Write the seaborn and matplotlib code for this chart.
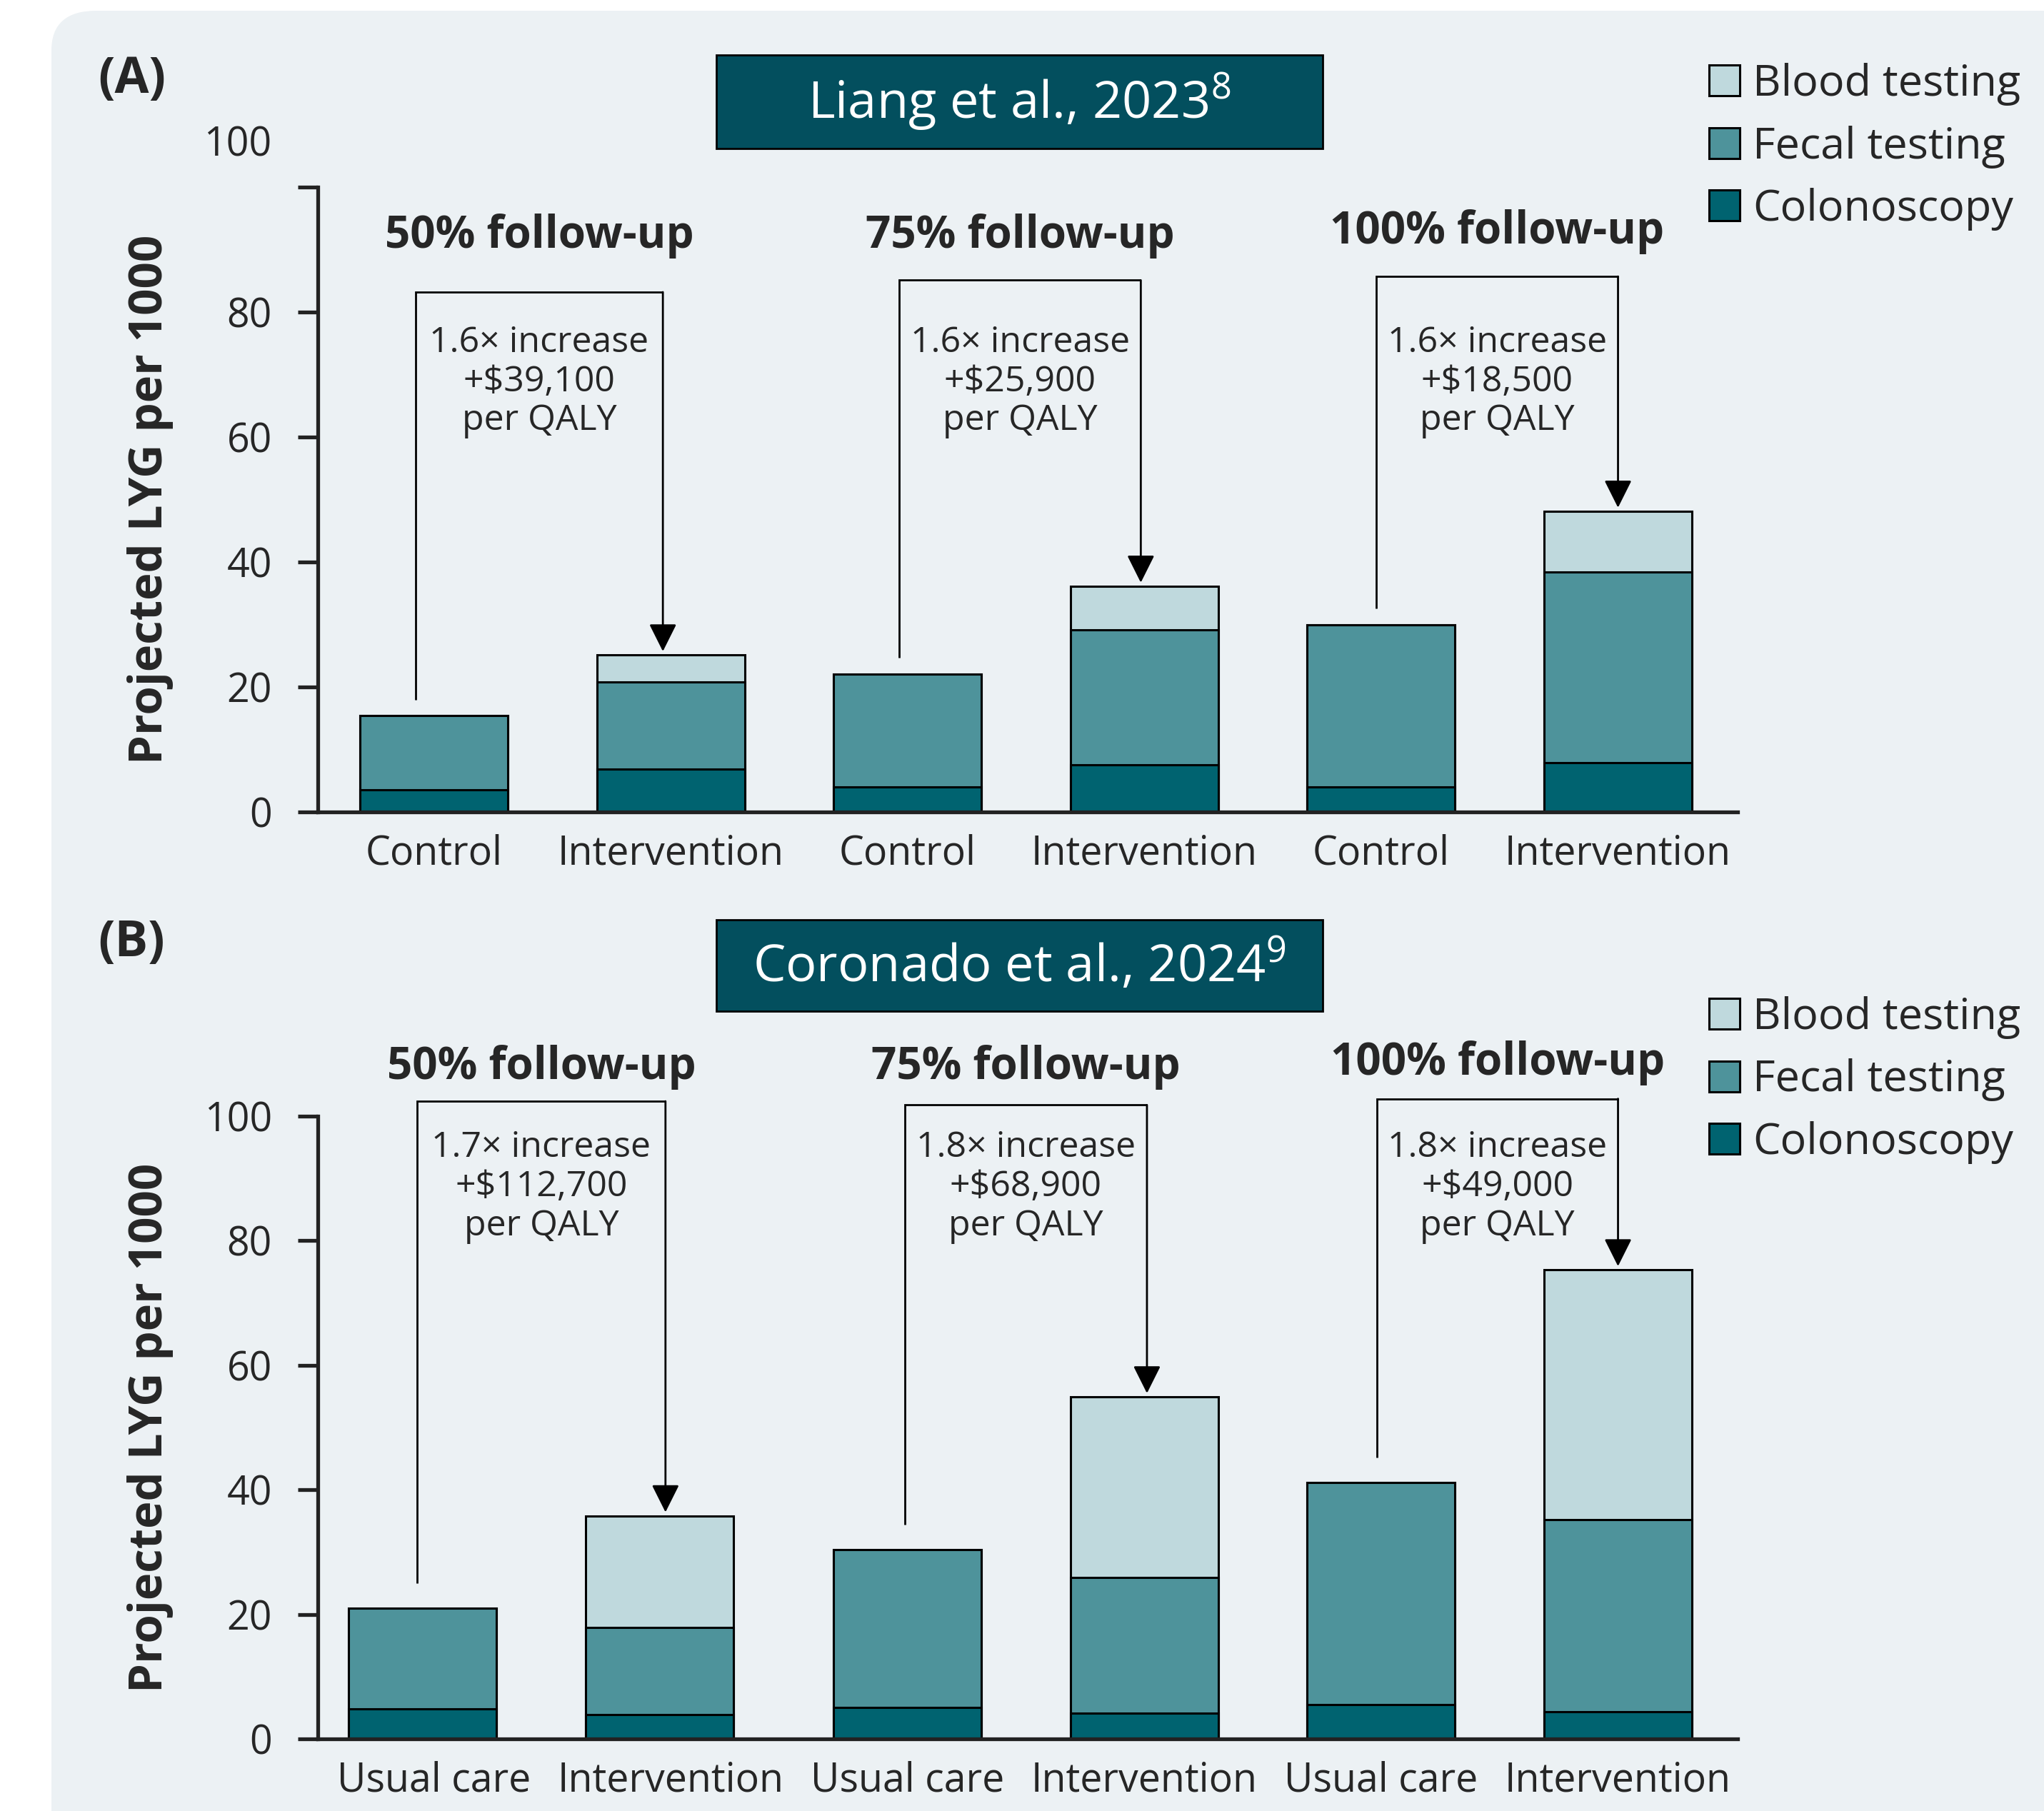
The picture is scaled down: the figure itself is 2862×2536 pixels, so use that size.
import numpy as np
import pandas as pd
import matplotlib
matplotlib.use("Agg")
import matplotlib.pyplot as plt
import seaborn as sns
from matplotlib.patches import Patch, Rectangle, FancyBboxPatch

sns.set_theme(style="ticks")
plt.rcParams["font.family"] = ["Open Sans", "DejaVu Sans"]
plt.rcParams["mathtext.fontset"] = "custom"
plt.rcParams["mathtext.rm"] = "Open Sans"

# ---------------- data ----------------
xlabels_a = ["Control", "Intervention", "Control", "Intervention", "Control", "Intervention"]
xlabels_b = ["Usual care", "Intervention", "Usual care", "Intervention", "Usual care", "Intervention"]
series_names = ["Blood testing", "Fecal testing", "Colonoscopy"]

colon_a = [3.6, 6.9, 4.0, 7.5, 4.0, 7.85]
fecal_a = [11.8, 13.9, 18.1, 21.7, 26.0, 30.55]
blood_a = [0.0, 4.3, 0.0, 6.9, 0.0, 9.7]

colon_b = [4.8, 3.9, 5.1, 4.1, 5.5, 4.4]
fecal_b = [16.2, 14.0, 25.3, 21.8, 35.7, 30.8]
blood_b = [0.0, 17.9, 0.0, 29.0, 0.0, 40.1]

followups = ["50% follow-up", "75% follow-up", "100% follow-up"]
notes_a = ["1.6× increase\n+$39,100\nper QALY",
           "1.6× increase\n+$25,900\nper QALY",
           "1.6× increase\n+$18,500\nper QALY"]
notes_b = ["1.7× increase\n+$112,700\nper QALY",
           "1.8× increase\n+$68,900\nper QALY",
           "1.8× increase\n+$49,000\nper QALY"]
title_a = r"Liang et al., 2023$^{\mathregular{8}}$"
title_b = r"Coronado et al., 2024$^{\mathregular{9}}$"
yticks = [0, 20, 40, 60, 80, 100]

# ---------------- style ----------------
BLOOD = "#BFD9DD"
FECAL = "#4E939B"
COLON = "#006370"
TITLEBOX = "#034F5E"
PANEL = "#ECF1F4"
SPINE = "#222222"
POS_A = [0, 1, 2, 3, 4, 5]
POS_B = [-0.048, 0.952, 2, 3, 4, 5]

W, H = 2862, 2536
fig = plt.figure(figsize=(W / 200, H / 200), dpi=200)
fig.patch.set_facecolor("white")
fig.patches.append(FancyBboxPatch((72 / W, -0.05), 1.2, 1.0 - 15 / H + 0.05,
                                  boxstyle="round,pad=0,rounding_size=0.022",
                                  transform=fig.transFigure, fc=PANEL, ec="none", zorder=-10))

ax_a = fig.add_axes([445 / W, 1 - 1137 / H, (2433 - 445) / W, (1137 - 262) / H])
ax_b = fig.add_axes([445 / W, 1 - 2435 / H, (2433 - 445) / W, (2435 - 1563) / H])


def draw_panel(ax, pos, colon, fecal, blood, xlabels, notes, br_dxl, br_dxr, br_tops,
               gap_left, header_y, note_y):
    colon = np.array(colon)
    fecal_top = colon + np.array(fecal)
    total = fecal_top + np.array(blood)
    df = pd.DataFrame({"pos": pos, "colon": colon, "fecal_top": fecal_top, "total": total})
    for col, c in [("total", BLOOD), ("fecal_top", FECAL), ("colon", COLON)]:
        sns.barplot(data=df, x="pos", y=col, native_scale=True, color=c, saturation=1,
                    width=0.624, edgecolor="black", linewidth=1.1, errorbar=None, ax=ax)
    ax.set_facecolor("none")
    ax.set_xlim(-0.49, 5.505)
    ax.set_ylim(0, 100)
    sns.despine(ax=ax)
    for s in ["left", "bottom"]:
        ax.spines[s].set_linewidth(1.9)
        ax.spines[s].set_color(SPINE)
    ax.set_yticks(yticks)
    ax.set_xticks(range(len(xlabels)))
    ax.set_xticklabels(xlabels)
    ax.tick_params(axis="y", length=10, width=1.9, pad=13, labelsize=20, color=SPINE)
    ax.tick_params(axis="x", length=0, pad=11, labelsize=20)
    ax.set_xlabel("")
    ax.set_ylabel("Projected LYG per 1000", fontsize=23.5, fontweight="bold")
    ax.yaxis.set_label_coords(-0.1015, 0.5)

    for g in range(3):
        xl = 2 * g + br_dxl[g]
        xr = 2 * g + 1 + br_dxr[g]
        top = br_tops[g]
        ax.plot([xl, xl, xr], [total[2 * g] + gap_left, top, top], color="black",
                lw=1.0, clip_on=False, solid_capstyle="butt", solid_joinstyle="miter")
        ax.annotate("", xy=(xr, total[2 * g + 1] + 0.6), xytext=(xr, top),
                    arrowprops=dict(arrowstyle="-|>,head_length=0.4,head_width=0.2",
                                    mutation_scale=30, lw=1.0, color="black",
                                    shrinkA=0, shrinkB=0), annotation_clip=False)
        xc = (xl + xr) / 2
        ax.text(xc, header_y[g], followups[g], ha="center", va="center",
                fontsize=22.3, fontweight="bold")
        ax.text(xc, note_y, notes[g], ha="center", va="center", fontsize=18,
                linespacing=1.14)
    return ax


draw_panel(ax_a, POS_A, colon_a, fecal_a, blood_a, xlabels_a, notes_a,
           [-0.078, -0.035, -0.02], [-0.033, -0.015, 0.0], [83.2, 85.1, 85.7],
           2.6, [92.2, 92.2, 92.8], 68.8)
draw_panel(ax_b, POS_B, colon_b, fecal_b, blood_b, xlabels_b, notes_b,
           [-0.071, -0.012, -0.019], [-0.022, 0.011, 0.0], [102.4, 101.8, 102.8],
           4.0, [107.8, 107.8, 108.5], 88.6)

# panel A: the "100" label sits higher than its tick in the original
ax_a.set_yticklabels([str(t) for t in yticks[:-1]] + [""])
ax_a.annotate(str(yticks[-1]), xy=(0, yticks[-1]), xycoords=("axes fraction", "data"),
              xytext=(-23.4, 20.9), textcoords="offset points", ha="right", va="center",
              fontsize=20)

# legends
for ax, ytop in [(ax_a, 1 - 88 / H), (ax_b, 1 - 1395 / H)]:
    handles = [Patch(facecolor=c, edgecolor="black", linewidth=1.1, label=n)
               for c, n in zip([BLOOD, FECAL, COLON], series_names)]
    ax.legend(handles=handles, loc="upper left", bbox_to_anchor=(2393 / W, ytop),
              bbox_transform=fig.transFigure, frameon=False, fontsize=22,
              handlelength=0.7, handleheight=0.7, handletextpad=0.3,
              labelspacing=0.45, borderpad=0, borderaxespad=0)

# panel labels and title boxes
fig.text(137 / W, 1 - 112 / H, "(A)", ha="left", va="center", fontsize=25, fontweight="bold")
fig.text(137 / W, 1 - 1321 / H, "(B)", ha="left", va="center", fontsize=25, fontweight="bold")
for (y0, y1), t in [((77, 208), title_a), ((1288, 1416), title_b)]:
    fig.patches.append(Rectangle((1003 / W, 1 - y1 / H), 849 / W, (y1 - y0) / H,
                                 transform=fig.transFigure, fc=TITLEBOX, ec="black",
                                 lw=1.0, zorder=1))
    fig.text(1427.5 / W, 1 - (y0 + y1) / 2 / H, t, ha="center", va="center",
             fontsize=26, color="white", zorder=2)

fig.savefig("out.png", dpi=200)
